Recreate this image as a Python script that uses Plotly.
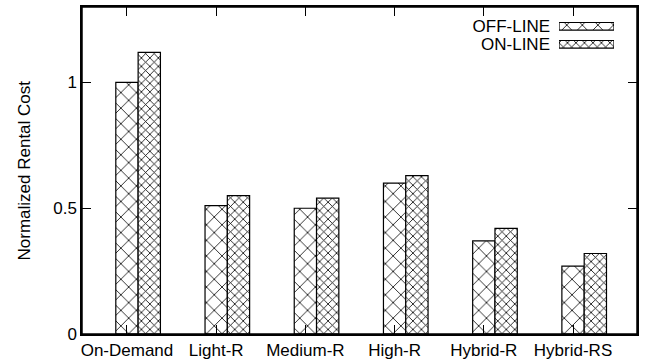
import numpy as np
import plotly.graph_objects as go

categories = ["On-Demand", "Light-R", "Medium-R", "High-R", "Hybrid-R", "Hybrid-RS"]
offline = [1.0, 0.51, 0.50, 0.60, 0.37, 0.27]
online = [1.12, 0.55, 0.54, 0.63, 0.42, 0.32]
series_names = ["OFF-LINE", "ON-LINE"]
y_ticks = [0, 0.5, 1]
y_tick_labels = ["0", "0.5", "1"]

FONT = "Liberation Sans, Arial, Helvetica, sans-serif"
FS = 17
BW = 0.25

idx = np.arange(len(categories))

fig = go.Figure()
pat_off = dict(shape="x", size=11, solidity=0.14, fgcolor="black", fgopacity=1, bgcolor="white", fillmode="overlay")
pat_on = dict(shape="x", size=6, solidity=0.25, fgcolor="black", fgopacity=1, bgcolor="white", fillmode="overlay")
line = dict(color="black", width=1.2)

fig.add_trace(go.Bar(x=idx, y=offline, width=BW, name=series_names[0],
                     marker=dict(color="white", line=line, pattern=pat_off), showlegend=False))
fig.add_trace(go.Bar(x=idx + BW, y=online, width=BW, name=series_names[1],
                     marker=dict(color="white", line=line, pattern=pat_on), showlegend=False))

# legend swatches drawn on a small inset axis
fig.add_trace(go.Bar(y=[series_names[0]], x=[1], orientation="h", width=0.42, xaxis="x2", yaxis="y2",
                     marker=dict(color="white", line=line, pattern=pat_off),
                     showlegend=False, hoverinfo="skip"))
fig.add_trace(go.Bar(y=[series_names[1]], x=[1], orientation="h", width=0.42, xaxis="x2", yaxis="y2",
                     marker=dict(color="white", line=line, pattern=pat_on),
                     showlegend=False, hoverinfo="skip"))

L, R, T, B = 82, 8, 7, 28
W, H = 645, 362
pw, ph = W - L - R, H - T - B

def px(xp):
    return (xp - L) / pw

def py(yp):
    return (H - B - yp) / ph

axis_common = dict(ticks="inside", ticklen=9, tickcolor="black", tickwidth=1.2, showline=True,
                   linecolor="black", linewidth=1.5, mirror="allticks", showgrid=False,
                   zeroline=False, automargin=False)

fig.update_layout(
    width=W, height=H,
    margin=dict(l=L, r=R, t=T, b=B, autoexpand=False),
    paper_bgcolor="white", plot_bgcolor="white",
    font=dict(family=FONT, size=FS, color="black"),
    barmode="overlay",
    xaxis=dict(range=[-0.504, 5.717], tickmode="array", tickvals=idx, ticktext=categories,
               **axis_common),
    yaxis=dict(range=[0, 1.3], tickmode="array", tickvals=y_ticks, ticktext=y_tick_labels,
               **axis_common),
    xaxis2=dict(domain=[px(559), px(614)], range=[0, 1], anchor="y2", visible=False,
                fixedrange=True),
    yaxis2=dict(domain=[py(53.3), py(17.3)], anchor="x2", type="category",
                tickmode="array", tickvals=series_names, ticktext=series_names,
                categoryorder="array", categoryarray=[series_names[1], series_names[0]],
                range=[-0.5, 1.5], showline=False, ticks="", showgrid=False, zeroline=False,
                ticklabelstandoff=8, fixedrange=True, automargin=False),
    shapes=[dict(type="rect", xref="x domain", yref="y domain", x0=0, x1=1, y0=0, y1=1,
                 line=dict(color="black", width=1.5), fillcolor="rgba(0,0,0,0)", layer="above")],
    annotations=[dict(text="Normalized Rental Cost", xref="paper", yref="paper",
                      x=px(24), y=0.5, xanchor="center", yanchor="middle", textangle=-90,
                      showarrow=False, font=dict(size=FS))],
)

fig.write_html("out.html", config={"displayModeBar": False},
               post_script="document.body.style.margin='0px';document.body.style.overflow='hidden';")
